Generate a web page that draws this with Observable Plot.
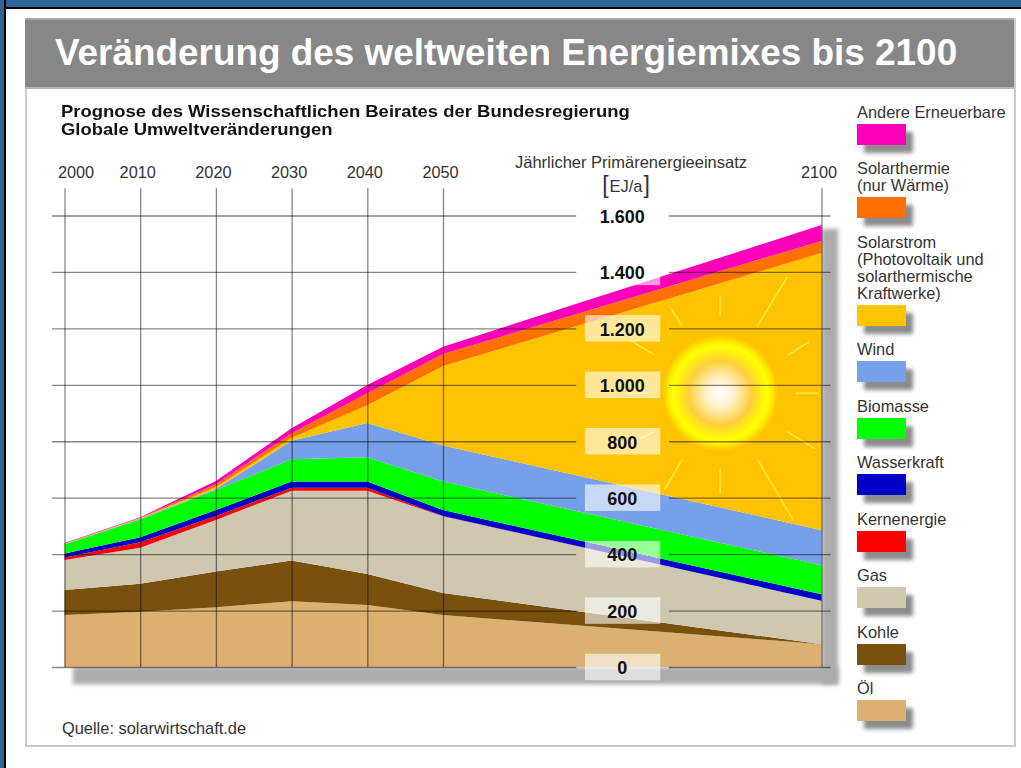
<!DOCTYPE html>
<html lang="de">
<head>
<meta charset="utf-8">
<title>Veränderung des weltweiten Energiemixes bis 2100</title>
<script src="https://cdn.jsdelivr.net/npm/d3@7"></script>
<script src="https://cdn.jsdelivr.net/npm/@observablehq/plot@0.6"></script>
<style>
  html,body{margin:0;padding:0;background:#fff;width:1021px;height:768px;overflow:hidden;font-family:"Liberation Sans",Arial,sans-serif}
  .abs{position:absolute}
  #barTop{left:0;top:0;width:1021px;height:7px;background:#2f6498;border-bottom:2px solid #000}
  #barLeft{left:0;top:0;width:4px;height:768px;background:#2f6498;border-right:2px solid #000}
  #frame{left:25px;top:18px;width:987px;height:725px;border:2px solid #cbcbcb;border-top:none;padding-top:2px}
  #band{left:25px;top:18px;width:989px;height:71px;background:#878787;box-sizing:border-box;border-top:2px solid #a8a8a8;border-bottom:2px solid #b5b5b5}
  #title{left:55px;top:32px;color:#fff;font-weight:700;font-size:36.9px;line-height:42px;white-space:nowrap}
  #subtitle{left:61px;top:102px;color:#111;font-weight:700;font-size:16.5px;line-height:18px;white-space:nowrap;transform:scaleX(1.118);transform-origin:0 0}
  #axisTitle{left:500px;width:262px;top:153px;text-align:center;color:#333;font-size:16.5px;line-height:18px;white-space:nowrap}
  #axisUnit{left:576px;width:100px;top:172px;text-align:center;color:#333;font-size:16.4px;line-height:26px;white-space:nowrap}
  #axisUnit span{font-size:23px;font-weight:400;vertical-align:-1px;margin:0 1px}
  #source{left:62px;top:719px;color:#333;font-size:16.4px;line-height:18px;white-space:nowrap}
  #legend{left:857px;top:104px;display:flex;flex-direction:column;width:160px}
  .item{margin-bottom:15.7px}
  .lab{color:#333;font-size:16.4px;line-height:17px;white-space:pre-line}
  .sw{width:49px;height:21px;margin-top:2.8px;box-shadow:7px 8px 4px #8c8c8c}
  #chart{left:0;top:0}
</style>
</head>
<body>
<div id="frame" class="abs"></div>
<div id="band" class="abs"></div>
<div id="barTop" class="abs"></div>
<div id="barLeft" class="abs"></div>
<div id="chart" class="abs"></div>
<div id="title" class="abs">Veränderung des weltweiten Energiemixes bis 2100</div>
<div id="subtitle" class="abs">Prognose des Wissenschaftlichen Beirates der Bundesregierung<br>Globale Umweltveränderungen</div>
<div id="axisTitle" class="abs">Jährlicher Primärenergieeinsatz</div>
<div id="axisUnit" class="abs"><span>[</span>EJ/a<span>]</span></div>
<div id="source" class="abs">Quelle: solarwirtschaft.de</div>
<div id="legend" class="abs"></div>
<script>
const years = [2000, 2010, 2020, 2030, 2040, 2050, 2100];
const yTicks = [0, 200, 400, 600, 800, 1000, 1200, 1400, 1600];

// Jährlicher Primärenergieeinsatz je Energieträger in EJ/a
const oel            = [184, 196, 212, 233, 220, 184, 81];
const kohle          = [89, 99, 126, 144, 110, 78, 0];
const gas            = [106, 128, 183, 248, 295, 272, 154];
const kernenergie    = [9, 19, 14, 10, 10, 1, 0];
const wasserkraft    = [14, 18, 21, 22, 22, 21, 23];
const biomasse       = [33, 63, 71, 79, 86, 101, 103];
const wind           = [1, 2, 4, 66, 122, 128, 124];
const solarstrom     = [1, 2, 7, 10, 63, 282, 982];
const solarthermie   = [1, 2, 10, 16, 42, 42, 43];
const andere         = [1, 2, 11, 18, 29, 26, 56];

const seriesNames = ["Öl", "Kohle", "Gas", "Kernenergie", "Wasserkraft", "Biomasse", "Wind", "Solarstrom", "Solarthermie", "Andere Erneuerbare"];
const seriesValues = [oel, kohle, gas, kernenergie, wasserkraft, biomasse, wind, solarstrom, solarthermie, andere];
const seriesColors = ["#dcb070", "#7a500f", "#cfc8b0", "#ff0000", "#0000c8", "#00ff00", "#76a0ea", "#ffc300", "#ff7000", "#fa00b8"];

// Legende von oben nach unten
const legendLabels = ["Andere Erneuerbare", "Solarthermie\n(nur Wärme)", "Solarstrom\n(Photovoltaik und\nsolarthermische\nKraftwerke)", "Wind", "Biomasse", "Wasserkraft", "Kernenergie", "Gas", "Kohle", "Öl"];

// Sonne im Solarstrom-Feld, in Jahr / EJ/a
const sunCentre = [{year: 2086.55, value: 972}];
const rayYear1  = [2095.4, 2086.55, 2080, 2074.7, 2098.25, 2096.5, 2095.4, 2077.8, 2091.5, 2086.55, 2081.5, 2074];
const rayValue1 = [1383, 1317, 1275, 1159, 1153, 972, 836, 836, 736, 701, 736, 972];
const rayYear2  = [2091.5, 2086.55, 2081.5, 2077.8, 2095.4, 2099.6, 2099.1, 2076, 2096.1, 2086.55, 2079.2, 2077];
const rayValue2 = [1211, 1248, 1211, 1109, 1106, 972, 775, 810, 527, 616, 630, 972];

const rows = seriesNames.flatMap((name, s) => years.map((year, i) => ({year, name, value: seriesValues[s][i]})));
const rays = rayYear1.map((x1, i) => ({x1, y1: rayValue1[i], x2: rayYear2[i], y2: rayValue2[i]}));

const gradient = () => {
  const ns = "http://www.w3.org/2000/svg";
  const defs = document.createElementNS(ns, "defs");
  defs.innerHTML = `<radialGradient id="sunGrad">
    <stop offset="0" stop-color="#ffffff"/>
    <stop offset="0.25" stop-color="#fff0c8"/>
    <stop offset="0.55" stop-color="#ffcf3c"/>
    <stop offset="0.68" stop-color="#ffe81a"/>
    <stop offset="0.82" stop-color="#ffff00"/>
    <stop offset="0.9" stop-color="#ffe800"/>
    <stop offset="1" stop-color="#ffc300"/>
  </radialGradient>`;
  return defs;
};

const shadow = {fill: "#ababab", imageFilter: "blur(2px)"};
const rule = {stroke: "#000", strokeOpacity: 0.48, strokeWidth: 1.3};

const chart = Plot.plot({
  width: 1021, height: 768,
  marginLeft: 64.5, marginRight: 199.5, marginTop: 215.5, marginBottom: 101,
  style: {background: "transparent", fontFamily: "'Liberation Sans', Arial, sans-serif", overflow: "visible"},
  x: {domain: [2000, 2100], axis: null},
  y: {domain: [0, 1600], axis: null},
  color: {domain: seriesNames, range: seriesColors},
  marks: [
    gradient,
    Plot.rect([0], {x1: 2001.1, x2: 2102.2, y1: -61, y2: 0, ...shadow}),
    Plot.rect([0], {x1: 2100, x2: 2102.2, y1: -61, y2: 1553, ...shadow}),
    Plot.areaY(rows, {x: "year", y: "value", z: "name", fill: "name", curve: "linear"}),
    Plot.dot(sunCentre, {x: "year", y: "value", r: 58, fill: "url(#sunGrad)"}),
    Plot.link(rays, {x1: "x1", y1: "y1", x2: "x2", y2: "y2", stroke: "#ffe84a", strokeWidth: 1.5}),
    Plot.ruleX(years, {x: d => d, y1: 0, y2: 1697, ...rule}),
    Plot.ruleY(yTicks, {y: d => d, x1: 1998.35, x2: 2067.6, ...rule}),
    Plot.ruleY(yTicks, {y: d => d, x1: 2079.85, x2: 2101.2, ...rule}),
    Plot.rect(yTicks, {x1: 2068.75, x2: 2078.7, y1: d => d - 47, y2: d => d + 47, fill: "#fff", fillOpacity: 0.6}),
    Plot.text(yTicks, {x: 2073.6, y: d => d, text: d => d.toLocaleString("de-DE"), fontSize: 18, fontWeight: 700, fill: "#111", dy: 1}),
    Plot.text(years.slice(0, 1), {x: d => d, y: 1754, text: String, fontSize: 16.3, fill: "#333", dx: 11}),
    Plot.text(years.slice(1), {x: d => d, y: 1754, text: String, fontSize: 16.3, fill: "#333", dx: -3})
  ]
});
document.getElementById("chart").append(chart);

const legend = d3.select("#legend");
legendLabels.forEach((label, i) => {
  const item = legend.append("div").attr("class", "item");
  item.append("div").attr("class", "lab").text(label);
  item.append("div").attr("class", "sw").style("background", seriesColors[seriesColors.length - 1 - i]);
});
</script>
</body>
</html>
